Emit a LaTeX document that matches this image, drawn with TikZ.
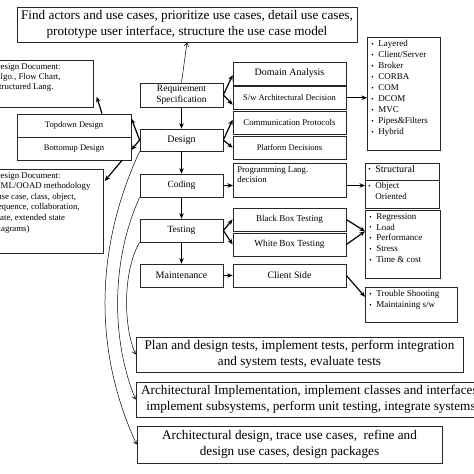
\documentclass[tikz,border=0pt]{standalone}
\usepackage{fontspec}
\setmainfont{Liberation Serif}
\usetikzlibrary{arrows.meta,calc}
\newcommand\mybul{\makebox[7pt][l]{\raisebox{0.3pt}{\fontsize{7}{7}\selectfont •}}}
\newcommand\fs[1]{\fontsize{#1}{10.5}\selectfont}
\begin{document}
\begin{tikzpicture}[x=1pt,y=-1pt,
  box/.style={draw=black!85, line width=0.7pt, inner sep=2pt, align=center, font=\fs{9}},
  big/.style={box, font=\fontsize{13.2}{16}\selectfont},
  tl/.style={box, anchor=north west, align=left},
  thk/.style={line width=1.2pt, -{Stealth[length=5.5pt,width=4.5pt]}},
  thn/.style={line width=0.5pt, -{Straight Barb[length=3.5pt,width=4.5pt]}}]
\useasboundingbox (0,0) rectangle (474,474);
\clip (0,0) rectangle (474,474);
\fill[white] (0,0) rectangle (474,474);
% top
\node[big, minimum width=340pt, minimum height=35pt] (top) at (187,24.5)
  {Find actors and use cases, prioritize use cases, detail use cases,\\prototype user interface, structure the use case model};
% centre column
\node[box, font=\fs{9.5}, minimum width=83pt, minimum height=24pt] (req) at (181.5,95) {Requirement\\Specification};
\node[box, font=\fs{10}, minimum width=83pt, minimum height=22pt] (design) at (181.5,140) {Design};
\node[box, font=\fs{9.5}, minimum width=83pt, minimum height=23pt] (coding) at (181.5,185.5) {Coding};
\node[box, font=\fs{9.5}, minimum width=83pt, minimum height=23pt] (testing) at (181.5,230.5) {Testing};
\node[box, font=\fs{10}, minimum width=83pt, minimum height=23pt] (maint) at (181.5,275.5) {Maintenance};
% left column
\node[box, font=\fs{8.5}, minimum width=114pt, minimum height=23pt] (topdown) at (74,125.5) {Topdown Design};
\node[box, font=\fs{8.5}, minimum width=114pt, minimum height=23pt] (bottomup) at (74,148.5) {Bottomup Design};
\node[tl, inner xsep=4pt, inner ysep=3pt, font=\fontsize{8.8}{10}\selectfont] (doc1) at (-10,60)
  {\parbox[c][41pt][t]{95pt}{\raggedright Design Document:\\Algo., Flow Chart,\\Structured Lang.}};
\node[tl, inner xsep=4pt, inner ysep=3pt, font=\fontsize{8.8}{10.6}\selectfont] (doc2) at (-10,169)
  {\parbox[c][78pt][t]{105pt}{\raggedright Design Document:\\UML/OOAD methodology\\(use case, class, object,\\sequence, collaboration,\\state, extended state\\diagrams)}};
% right column
\node[box, font=\fs{10}, minimum width=113pt, minimum height=23pt] (domain) at (289.5,73.5) {Domain Analysis};
\node[box, font=\fs{8.5}, minimum width=113pt, minimum height=22.5pt] (swarch) at (289.5,97.75) {S/w Architectural Decision};
\node[box, font=\fs{8.8}, minimum width=113pt, minimum height=22.5pt] (comm) at (289.5,122.75) {Communication Protocols};
\node[box, font=\fs{8.5}, minimum width=113pt, minimum height=22.5pt] (platform) at (289.5,147.75) {Platform Decisions};
\node[tl, inner xsep=4pt, inner ysep=3pt, font=\fontsize{8.8}{10.6}\selectfont] (proglang) at (233,163)
  {\parbox[c][28pt][t]{105pt}{\raggedright Programming Lang.\\decision}};
\node[box, font=\fs{9}, minimum width=113pt, minimum height=23pt] (blackbox) at (289.5,219.5) {Black Box Testing};
\node[box, font=\fs{9.3}, minimum width=113pt, minimum height=23pt] (whitebox) at (289.5,244.5) {White Box Testing};
\node[box, font=\fs{9.8}, minimum width=113pt, minimum height=23pt] (client) at (289.5,275.5) {Client Side};
% bullet boxes
\node[tl, inner xsep=4pt, inner ysep=3pt, font=\fontsize{9}{11}\selectfont] (bul1) at (367,37)
  {\parbox[c][107pt][t]{65pt}{\raggedright \mybul Layered\\\mybul Client/Server\\\mybul Broker\\\mybul CORBA\\\mybul COM\\\mybul DCOM\\\mybul MVC\\\mybul Pipes\&Filters\\\mybul Hybrid}};
\node[tl, inner xsep=3pt, inner ysep=2pt, font=\fontsize{10}{11}\selectfont] (struct) at (365,163)
  {\parbox[c][13pt][t]{68pt}{\raggedright \mybul Structural}};
\node[tl, inner xsep=3pt, inner ysep=2pt, font=\fontsize{9}{10.5}\selectfont] (oo) at (365,180)
  {\parbox[c][24pt][t]{68pt}{\raggedright \mybul Object\\\hspace*{7pt}Oriented}};
\node[tl, inner xsep=4pt, inner ysep=3pt, font=\fontsize{9}{10.8}\selectfont] (bul3) at (365,210)
  {\parbox[c][62pt][t]{67pt}{\raggedright \mybul Regression\\\mybul Load\\\mybul Performance\\\mybul Stress\\\mybul Time \& cost}};
\node[tl, inner xsep=4pt, inner ysep=3pt, font=\fontsize{9}{11}\selectfont] (bul4) at (365,287)
  {\parbox[c][29pt][t]{84pt}{\raggedright \mybul Trouble Shooting\\\mybul Maintaining s/w}};
% bottom boxes
\node[big, minimum width=327pt, minimum height=35pt] (boxA) at (299.5,354.5)
  {Plan and design tests, implement tests, perform integration\\and system tests, evaluate tests};
\node[big, minimum width=350pt, minimum height=35pt] (boxB) at (311,399.5)
  {Architectural Implementation, implement classes and interfaces,\\implement subsystems, perform unit testing, integrate systems};
\node[big, minimum width=305pt, minimum height=37pt] (boxC) at (289.5,444.5)
  {Architectural design, trace use cases,\ \ refine and\\design use cases, design packages};
% connectors
\draw[thn] (req.north) -- (top.south);
\draw[thk] (req) -- (design);
\draw[thk] (design) -- (coding);
\draw[thk] (coding) -- (testing);
\draw[thk] (testing) -- (maint);
\draw[thk] (req.east) -- ([yshift=-1.5pt]domain.west);
\draw[thk] (req.east) -- ([yshift=-7pt]swarch.west);
\draw[thk] (design.east) -- ([yshift=3pt]comm.west);
\draw[thk] (design.east) -- (platform.west);
\draw[thk] (design.west) -- ([yshift=7pt]topdown.east);
\draw[thk] (design.west) -- ([yshift=-1.5pt]bottomup.east);
\draw[thk] ([xshift=28pt]topdown.north) -- ([xshift=3pt,yshift=11pt]doc1.south east);
\draw[thk] ([xshift=48pt]bottomup.south) -- ([xshift=1pt,yshift=-12pt]doc2.north east);
\draw[thk] (coding.east) -- (coding.east -| proglang.west);
\draw[thk] (testing.east) -- (blackbox.west);
\draw[thk] (testing.east) -- (whitebox.west);
\draw[thk] (maint.east) -- (client.west);
\draw[thk] (swarch.east) -- (swarch.east -| bul1.west);
\draw[thk] (coding.east -| proglang.east) -- (coding.east -| oo.west);
\draw[thk] (blackbox.east) -- ([yshift=13pt]bul3.west);
\draw[thk] (whitebox.east) -- ([yshift=13pt]bul3.west);
\draw[thk] (client.east) -- ([yshift=8pt]bul4.west);
% curved links
\draw[thn] (design.south west) .. controls (94,250) and (94,352) .. (boxC.west);
\draw[thn] (coding.south west) .. controls (111,260) and (111,340) .. (boxB.west);
\draw[thn] (testing.south west) .. controls (123,270) and (123,326) .. (boxA.west);
\end{tikzpicture}
\end{document}
